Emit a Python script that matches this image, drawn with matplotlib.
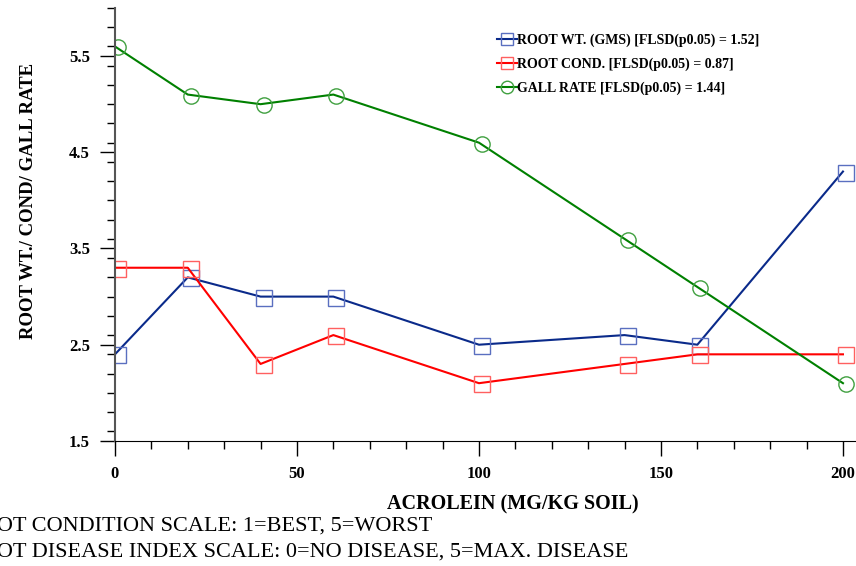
import matplotlib
matplotlib.use("Agg")
import matplotlib.pyplot as plt
from matplotlib.ticker import MultipleLocator
from matplotlib.lines import Line2D
import matplotlib.transforms as mtransforms

acrolein = [0, 20, 40, 60, 100, 140, 160, 200]
root_wt = [2.4, 3.2, 3.0, 3.0, 2.5, 2.6, 2.5, 4.3]
root_cond = [3.3, 3.3, 2.3, 2.6, 2.1, 2.3, 2.4, 2.4]
gall_rate = [5.6, 5.1, 5.0, 5.1, 4.6, 3.6, 3.1, 2.1]
labels = ["ROOT WT. (GMS) [FLSD(p0.05) = 1.52]",
          "ROOT COND. [FLSD(p0.05) = 0.87]",
          "GALL RATE [FLSD(p0.05) = 1.44]"]
xticks = [0, 50, 100, 150, 200]
yticks = [1.5, 2.5, 3.5, 4.5, 5.5]

plt.rcParams['font.family'] = ['Liberation Serif', 'DejaVu Serif']

fig = plt.figure(figsize=(8.56, 5.66), dpi=100)
ax = fig.add_axes([0.1343, 0.2210, 0.8645, 0.7649])

off = mtransforms.ScaledTranslation(3/100, -1/100, fig.dpi_scale_trans)
series = [(root_wt, '#0a2a8a', 's', '#5a6fc0'),
          (root_cond, '#ff0000', 's', '#ff6060'),
          (gall_rate, '#008000', 'o', '#40a040')]
handles = []
for (vals, col, mk, mcol), lab in zip(series, labels):
    ax.plot(acrolein, vals, color=col, lw=1.5)
    ax.plot(acrolein, vals, ls='none', marker=mk, ms=11, mfc='none',
            mec=mcol, mew=1.0, transform=ax.transData + off)
    handles.append(Line2D([], [], color=col, lw=1.5, marker=mk, ms=9,
                          mfc='none', mec=mcol, mew=1.0, label=lab))

ax.set_xlim(0, 203.3)
ax.set_ylim(1.5, 6.0)
ax.set_xticks(xticks)
ax.set_yticks(yticks)
ax.xaxis.set_minor_locator(MultipleLocator(10))
ax.yaxis.set_minor_locator(MultipleLocator(0.2))
ax.set_xticklabels([str(t) for t in xticks], fontweight='bold', fontsize=12)
ax.set_yticklabels([str(t) for t in yticks], fontweight='bold', fontsize=12)
ax.tick_params(which='major', length=11, width=1, pad=7)
ax.tick_params(which='minor', length=6, width=1)
for s in ['top', 'right']:
    ax.spines[s].set_visible(False)
ax.spines['left'].set_color('#555555')
ax.spines['left'].set_linewidth(1.5)

fig.text(0.599, 0.108, "ACROLEIN (MG/KG SOIL)", fontweight='bold', fontsize=14.5,
         ha='center', va='center')
fig.text(0.033, 0.645, "ROOT WT./ COND/ GALL RATE", fontweight='bold', fontsize=13.5,
         ha='center', va='center', rotation=90)
fig.text(-0.040, 0.070, "ROOT CONDITION SCALE: 1=BEST, 5=WORST", fontsize=16,
         ha='left', va='center')
fig.text(-0.040, 0.024, "ROOT DISEASE INDEX SCALE: 0=NO DISEASE, 5=MAX. DISEASE", fontsize=16,
         ha='left', va='center')

leg = ax.legend(handles=handles, loc='upper left', bbox_to_anchor=(0.5, 0.97), frameon=False,
                prop={'weight': 'bold', 'size': 10}, handlelength=1.4,
                handletextpad=0.0, labelspacing=0.75)

fig.savefig("out.png", dpi=100)
